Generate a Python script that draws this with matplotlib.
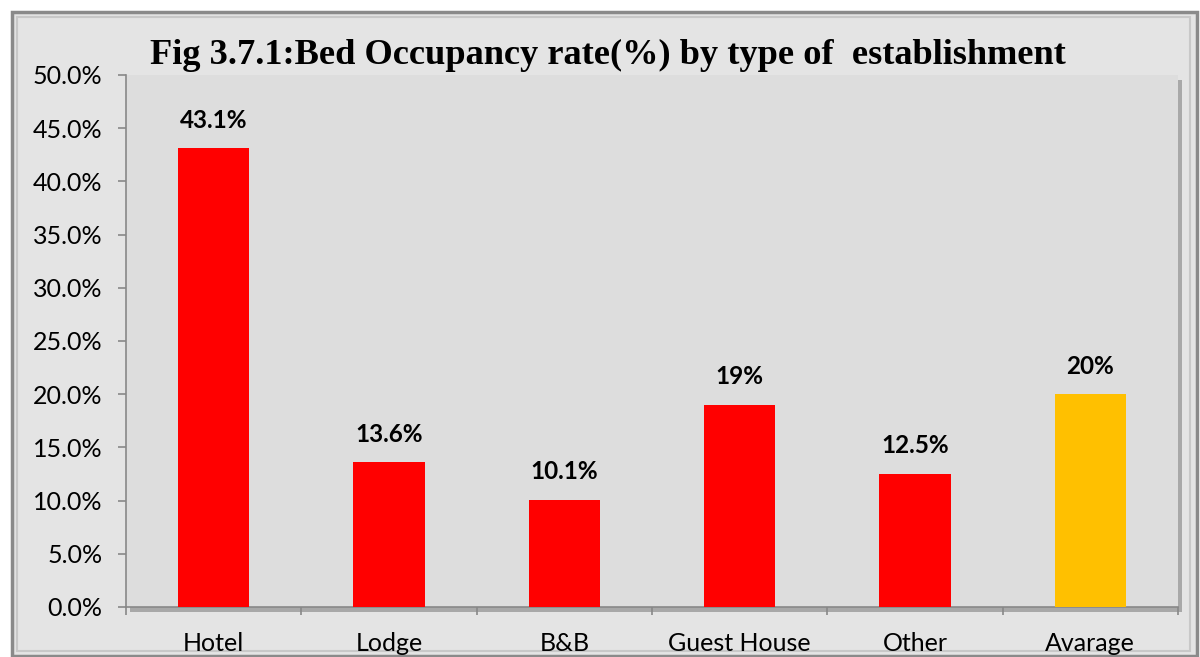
import matplotlib
matplotlib.use("Agg")
import matplotlib.pyplot as plt
from matplotlib.patches import Rectangle
from matplotlib.ticker import FuncFormatter, MultipleLocator

categories = ["Hotel", "Lodge", "B&B", "Guest House", "Other", "Avarage"]
values = [43.1, 13.6, 10.1, 19.0, 12.5, 20.0]
labels = ["43.1%", "13.6%", "10.1%", "19%", "12.5%", "20%"]
colors = ["#ff0000", "#ff0000", "#ff0000", "#ff0000", "#ff0000", "#ffc000"]
title = "Fig 3.7.1:Bed Occupancy rate(%) by type of  establishment"

W, H = 1200, 657
fig = plt.figure(figsize=(W / 100, H / 100), dpi=100)
fig.patch.set_facecolor("white")

def fx(px):
    return px / W

def fy(py):
    return 1 - py / H

# outer chart frame
fig.patches.append(Rectangle((fx(12), fy(656)), fx(1197) - fx(12), fy(12) - fy(656),
                             transform=fig.transFigure, facecolor="#e4e4e4",
                             edgecolor="#8a8a8a", linewidth=2.5, zorder=-3))
fig.patches.append(Rectangle((fx(17), fy(651)), fx(1190) - fx(17), fy(17) - fy(651),
                             transform=fig.transFigure, facecolor="none",
                             edgecolor="#c8c8c8", linewidth=1.5, zorder=-2))

left, right, top, bottom = 126, 1178, 75, 607
# shadow of plot area
fig.patches.append(Rectangle((fx(left + 4), fy(bottom + 5)), fx(right) - fx(left), fy(top) - fy(bottom),
                             transform=fig.transFigure, facecolor="#a8a8a8",
                             edgecolor="none", zorder=-1))
ax = fig.add_axes([fx(left), fy(bottom), fx(right) - fx(left), fy(top) - fy(bottom)])
ax.set_zorder(1)
ax.set_facecolor("#dddddd")

FONT = "Lato"
x = list(range(len(categories)))
bars = ax.bar(x, values, width=0.405, color=colors, zorder=3)
for xi, v, lab in zip(x, values, labels):
    ax.annotate(lab, (xi, v), xytext=(0, 12), textcoords="offset points",
                ha="center", va="bottom", fontsize=17.5, fontweight="bold",
                family=FONT, color="black")

ax.set_xlim(-0.5, len(categories) - 0.5)
ax.set_ylim(0, 50)
ax.yaxis.set_major_locator(MultipleLocator(5))
ax.yaxis.set_major_formatter(FuncFormatter(lambda v, p: f"{v:.1f}%"))
ax.set_xticks(x)
ax.set_xticklabels(categories)
ax.set_xticks([i - 0.5 for i in range(len(categories) + 1)], minor=True)
ax.tick_params(axis="x", which="major", length=0, pad=18)
ax.tick_params(axis="x", which="minor", length=6, color="#888888", width=1.2)
ax.tick_params(axis="y", length=6, color="#888888", width=1.2, pad=11)
for lab in ax.get_xticklabels() + ax.get_yticklabels():
    lab.set_family(FONT)
    lab.set_fontsize(18)
for s in ["top", "right"]:
    ax.spines[s].set_visible(False)
for s in ["left", "bottom"]:
    ax.spines[s].set_color("#888888")
    ax.spines[s].set_linewidth(1.2)

fig.text(fx(608), fy(55), title, ha="center", va="center", fontsize=26.2,
         fontweight="bold", family="Liberation Serif")

fig.savefig("out.png", dpi=100, facecolor=fig.get_facecolor())
